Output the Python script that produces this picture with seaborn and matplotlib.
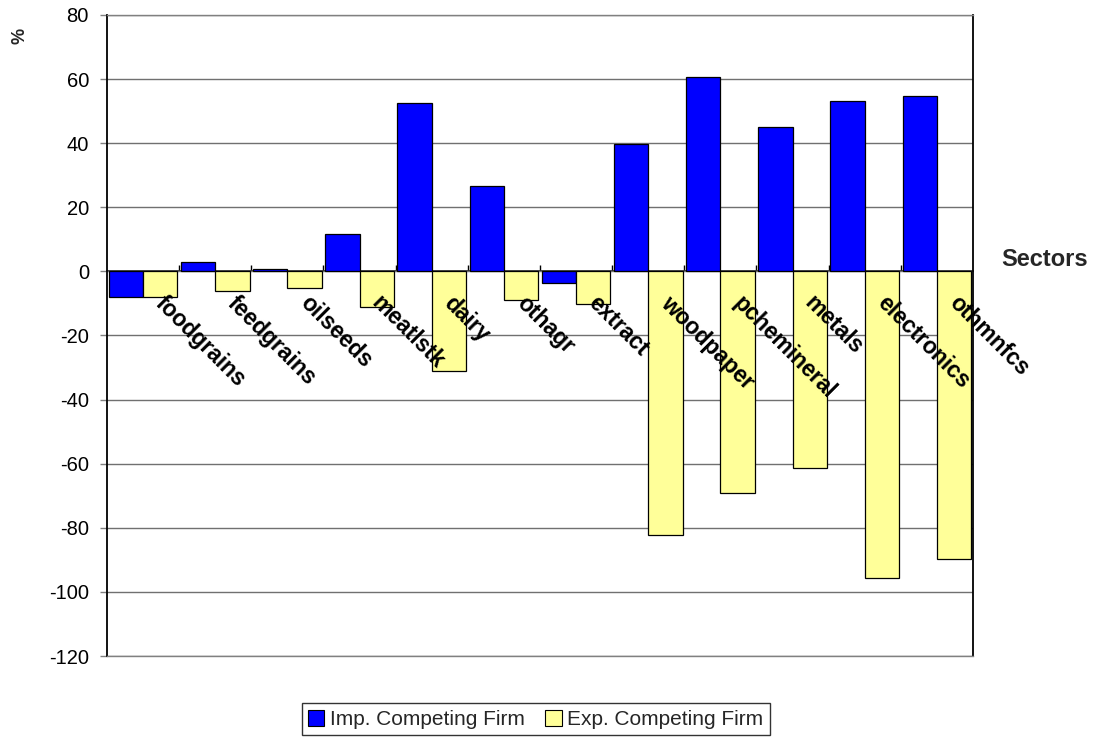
import matplotlib
matplotlib.use("Agg")
import matplotlib.pyplot as plt
import seaborn as sns
import pandas as pd

sectors = ["foodgrains", "feedgrains", "oilseeds", "meatlstk", "dairy", "othagr",
           "extract", "woodpaper", "pchemineral", "metals", "electronics", "othmnfcs"]
imp_values = [-8.1, 3.0, 0.8, 11.7, 52.6, 26.5, -3.6, 39.7, 60.8, 45.0, 53.3, 54.7]
exp_values = [-8.0, -6.1, -5.3, -11.2, -31.0, -9.0, -10.3, -82.4, -69.1, -61.3, -95.8, -89.6]
series_names = ["Imp. Competing Firm", "Exp. Competing Firm"]
y_ticks = [-120, -100, -80, -60, -40, -20, 0, 20, 40, 60, 80]

df = pd.DataFrame({
    "sector": sectors * 2,
    "value": imp_values + exp_values,
    "series": [series_names[0]] * len(sectors) + [series_names[1]] * len(sectors),
})

sns.set_theme(style="white")
plt.rcParams["font.family"] = ["Liberation Sans", "DejaVu Sans"]

fig = plt.figure(figsize=(11.02, 7.38), dpi=100)
ax = fig.add_axes([0.0971, 0.1111, 0.7858, 0.8686])

sns.barplot(data=df, x="sector", y="value", hue="series", hue_order=series_names,
            order=sectors, palette=["#0000FF", "#FFFF99"], width=0.95, gap=0,
            edgecolor="black", linewidth=0.9, saturation=1, ax=ax, legend=True)

ax.set_ylim(-120, 80)
ax.set_xlim(-0.5, len(sectors) - 0.5)
ax.set_yticks(y_ticks)
ax.set_yticklabels([str(t) for t in y_ticks], fontsize=14.5, color="black")
ax.tick_params(axis="y", direction="out", length=5, width=1, color="#808080", pad=8, left=True)
ax.yaxis.grid(True, color="#707070", linewidth=1)
ax.set_axisbelow(True)

ax.set_xticks([])
ax.set_xlabel("")
ax.set_ylabel("%", fontsize=13, fontweight="bold")
ax.yaxis.set_label_coords(-0.091, 0.968)

for side in ["top", "bottom"]:
    ax.spines[side].set_color("#808080")
    ax.spines[side].set_linewidth(1)
for side in ["left", "right"]:
    ax.spines[side].set_color("black")
    ax.spines[side].set_linewidth(1.3)

# category axis crossing at zero
sec = ax.secondary_xaxis(0.6)
sec.spines["bottom"].set_color("black")
sec.spines["bottom"].set_linewidth(1.3)
sec.set_xticks([i + 0.5 for i in range(len(sectors) - 1)])
sec.set_xticklabels([""] * (len(sectors) - 1))
sec.tick_params(axis="x", direction="out", length=4, width=1, color="black")

for i, name in enumerate(sectors):
    ax.annotate(name, xy=(i, 0), xycoords="data", xytext=(24, -20),
                textcoords="offset pixels", rotation=-45, ha="left", va="top",
                rotation_mode="anchor", fontsize=16.5, fontweight="bold",
                color="black", zorder=6)

ax.text(1.033, 0.6, "Sectors", transform=ax.transAxes, ha="left", va="bottom",
        fontsize=17, fontweight="bold")

leg = ax.legend(loc="lower center", bbox_to_anchor=(0.486, 0.004),
                bbox_transform=fig.transFigure,
                ncol=2, frameon=True, fancybox=False, shadow=False, fontsize=15,
                handlelength=0.8, handleheight=0.8, handletextpad=0.25, columnspacing=1.0,
                borderpad=0.3, borderaxespad=0.0)
leg.get_frame().set_edgecolor("black")
leg.get_frame().set_linewidth(1)
for h in leg.legend_handles:
    h.set_edgecolor("black")
    h.set_linewidth(0.8)

fig.savefig("out.png", dpi=100)
